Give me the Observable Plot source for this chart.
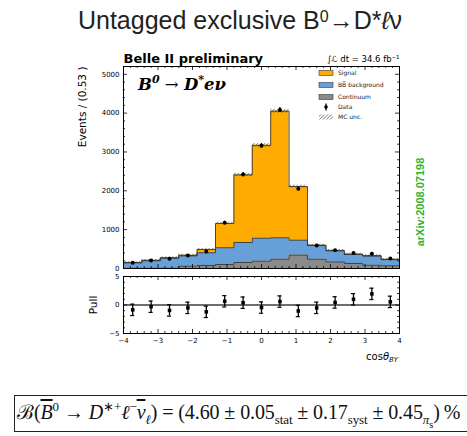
<!DOCTYPE html>
<html><head><meta charset="utf-8">
<script src="https://cdn.jsdelivr.net/npm/d3@7"></script>
<script src="https://cdn.jsdelivr.net/npm/@observablehq/plot@0.6"></script>
<style>
html,body{margin:0;padding:0;background:#fff;}
body{width:467px;height:436px;position:relative;overflow:hidden;font-family:"DejaVu Sans",sans-serif;}
.abs{position:absolute;}
#overlay{position:absolute;left:0;top:0;width:467px;height:436px;pointer-events:none;}
#fbox{position:absolute;left:14px;top:395px;width:470px;height:37px;border:1.5px solid #222;box-sizing:border-box;}
#formula{position:absolute;left:17px;top:402px;font-family:"Liberation Serif",serif;font-size:20px;white-space:nowrap;line-height:1;color:#111;letter-spacing:-0.1px;}
#formula sup,#formula sub{font-size:0.65em;line-height:0;}
#formula sub sub{font-size:0.8em;}
.ov{text-decoration:overline;}
</style></head><body>
<div id="main" class="abs" style="left:0;top:40px"></div>
<div id="pull" class="abs" style="left:0;top:272px"></div>
<svg id="overlay" xmlns="http://www.w3.org/2000/svg" width="467" height="436">
  <defs>
    <pattern id="hatchL" patternUnits="userSpaceOnUse" width="2.5" height="2.5" patternTransform="rotate(45)">
      <line x1="0" y1="0" x2="0" y2="2.5" stroke="#222" stroke-width="0.9"/>
    </pattern>
  </defs>
  <text x="240" y="29" text-anchor="middle" font-family="Liberation Sans, Arial, sans-serif" font-size="25" fill="#222">Untagged exclusive B<tspan font-size="16" dy="-7">0</tspan><tspan dy="7">→D*</tspan><tspan font-style="italic">ℓ</tspan>ν</text>
  <text x="138" y="90" font-family="DejaVu Serif, serif" font-weight="bold" font-style="italic" font-size="16.5" fill="#000">B<tspan font-size="11" dy="-7">0</tspan><tspan dy="7" font-style="normal" font-weight="normal"> → </tspan>D<tspan font-size="11" dy="-7">*</tspan><tspan dy="7">eν</tspan></text>
  <g id="legend" font-family="DejaVu Sans, sans-serif" font-size="6" fill="#222"></g>
  <text transform="translate(424,202) rotate(-90)" text-anchor="middle" font-family="Liberation Sans, Arial, sans-serif" font-weight="bold" font-size="11" fill="#33b233">arXiv:2008.07198</text>
  <text x="398" y="360" text-anchor="end" font-family="DejaVu Sans, sans-serif" font-size="10" fill="#000">cos<tspan font-style="italic">θ</tspan><tspan font-style="italic" font-size="7" dy="2">BY</tspan></text>
</svg>
<div id="fbox"></div>
<div id="formula"><span>ℬ</span>(<i class="ov">B</i><sup>0</sup> → <i>D</i><sup>∗+</sup><i>ℓ</i><sup>−</sup><i class="ov">ν</i><sub><i>ℓ</i></sub>) = (4.60 ± 0.05<sub>stat</sub> ± 0.17<sub>syst</sub> ± 0.45<sub><i>π</i><sub>s</sub></sub>)&thinsp;%</div>
<script>
// ---- data ----
const binLow = [-4, -3.467, -2.933, -2.4, -1.867, -1.333, -0.8, -0.267, 0.267, 0.8, 1.333, 1.867, 2.4, 2.933, 3.467];
const binWidth = 0.5333;
const continuum = [8, 8, 10, 60, 78, 103, 155, 190, 240, 345, 240, 170, 130, 85, 70];
const bbbar     = [137, 192, 255, 265, 327, 432, 515, 590, 550, 385, 350, 285, 230, 235, 160];
const signal    = [10, 10, 10, 15, 85, 625, 1740, 2390, 3260, 1380, 10, 10, 10, 10, 5];
const dataCounts= [150, 205, 250, 335, 440, 1180, 2420, 3160, 4080, 2050, 590, 470, 400, 380, 260];
const mcUnc     = [25, 25, 25, 25, 25, 30, 40, 45, 50, 35, 25, 25, 25, 25, 25];
const pulls     = [-0.85, -0.3, -0.95, -0.5, -1.2, 0.65, 0.4, -0.45, 0.6, -1.05, -0.5, 0.45, 1.0, 1.95, 0.55];
const pullErr   = 1;
const xTickLabels = [-4, -3, -2, -1, 0, 1, 2, 3, 4];
const yTickLabels = [0, 1000, 2000, 3000, 4000, 5000];
const pullTickLabels = [-5, 0, 5];
const legendItems = ["Signal", "BB\u0305 background", "Continuum", "Data", "MC unc."];

const ORANGE = "#ffab00", BLUE = "#679fd8", GRAY = "#8a8a8a", EDGE = "#3a3a3a";

const rows = binLow.map((lo, i) => {
  const c = continuum[i], b = c + bbbar[i], t = b + signal[i];
  return {lo, hi: lo + binWidth, x: lo + binWidth / 2, c, b, t, d: dataCounts[i], u: mcUnc[i], p: pulls[i]};
});
const last = rows[rows.length - 1];
const steps = [...rows.map(r => ({x: r.lo, c: r.c, b: r.b, t: r.t})), {x: last.hi, c: last.c, b: last.b, t: last.t}];

const fmt = d => d < 0 ? "\u2212" + (-d) : String(d);
const W = 467, mL = 123, mR = 68;
const plotW = W - mL - mR;
const xMinor = d3.range(-40, 41, 2).map(v => v / 10).filter(v => !Number.isInteger(v));

function tickMarks(yMajor, yMinor, plotH) {
  const s = {stroke: "#000", strokeWidth: 0.8};
  const MJ = 4, MN = 2;
  return [
    Plot.ruleX(xTickLabels, {x: d => d, insetTop: plotH - MJ, ...s}),
    Plot.ruleX(xTickLabels, {x: d => d, insetBottom: plotH - MJ, ...s}),
    Plot.ruleX(xMinor, {x: d => d, insetTop: plotH - MN, ...s}),
    Plot.ruleX(xMinor, {x: d => d, insetBottom: plotH - MN, ...s}),
    Plot.ruleY(yMajor, {y: d => d, insetRight: plotW - MJ, ...s}),
    Plot.ruleY(yMajor, {y: d => d, insetLeft: plotW - MJ, ...s}),
    Plot.ruleY(yMinor, {y: d => d, insetRight: plotW - MN, ...s}),
    Plot.ruleY(yMinor, {y: d => d, insetLeft: plotW - MN, ...s})
  ];
}

// ---- main panel ----
const mainH = 232, mT = 26, mB = 4;
const yMinorMain = d3.range(0, 5201, 200).filter(v => v % 1000 !== 0);
const main = Plot.plot({
  width: W, height: mainH, marginTop: mT, marginBottom: mB, marginLeft: mL, marginRight: mR,
  style: {fontFamily: "DejaVu Sans, sans-serif", fontSize: "7px", color: "#000", background: "transparent", overflow: "visible"},
  x: {domain: [-4, 4], axis: null},
  y: {domain: [0, 5200], axis: null},
  marks: [
    Plot.area(steps, {x1: "x", y1: 0, y2: "c", curve: "step-after", fill: GRAY}),
    Plot.area(steps, {x1: "x", y1: "c", y2: "b", curve: "step-after", fill: BLUE}),
    Plot.area(steps, {x1: "x", y1: "b", y2: "t", curve: "step-after", fill: ORANGE}),
    Plot.line(steps, {x: "x", y: "c", curve: "step-after", stroke: EDGE, strokeWidth: 0.9}),
    Plot.line(steps, {x: "x", y: "b", curve: "step-after", stroke: EDGE, strokeWidth: 0.9}),
    Plot.line(steps, {x: "x", y: "t", curve: "step-after", stroke: EDGE, strokeWidth: 0.9}),
    Plot.rect(rows, {x1: "lo", x2: "hi", y1: d => d.t - d.u, y2: d => d.t + d.u, fill: "url(#hatchM)"}),
    Plot.ruleX(rows, {x: "x", y1: d => d.d - Math.sqrt(d.d), y2: d => d.d + Math.sqrt(d.d), stroke: "#000", strokeWidth: 1.3}),
    Plot.dot(rows, {x: "x", y: "d", r: 2, fill: "#000"}),
    Plot.frame({stroke: "#000", strokeWidth: 1}),
    ...tickMarks(yTickLabels, yMinorMain, mainH - mT - mB),
    Plot.axisY({ticks: yTickLabels, tickSize: 0, tickPadding: 4, anchor: "left", label: null, tickFormat: fmt, fontSize: 7}),
    Plot.text(["Events / (0.53 )"], {text: d => d, frameAnchor: "top-left", rotate: -90, textAnchor: "end", dx: -45, fontSize: 10.5}),
    Plot.text(["Belle II preliminary"], {text: d => d, frameAnchor: "top-left", textAnchor: "start", dy: -13, fontSize: 13, fontWeight: "bold"}),
    Plot.text(["\u222B\u2112 dt = 34.6 fb\u207B\u00B9"], {text: d => d, frameAnchor: "top-right", textAnchor: "end", dy: -11, fontSize: 8.5})
  ]
});
{
  const ns = "http://www.w3.org/2000/svg";
  const defs = document.createElementNS(ns, "defs");
  defs.innerHTML = '<pattern id="hatchM" patternUnits="userSpaceOnUse" width="2.5" height="2.5" patternTransform="rotate(45)"><line x1="0" y1="0" x2="0" y2="2.5" stroke="#222" stroke-width="0.9"/></pattern>';
  main.prepend(defs);
}
document.getElementById("main").appendChild(main);

// ---- pull panel ----
const pullH = 92, pT = 4, pB = 31;
const yMinorPull = d3.range(-5, 6, 1).filter(v => v % 5 !== 0);
const pull = Plot.plot({
  width: W, height: pullH, marginTop: pT, marginBottom: pB, marginLeft: mL, marginRight: mR,
  style: {fontFamily: "DejaVu Sans, sans-serif", fontSize: "7px", color: "#000", background: "transparent", overflow: "visible"},
  x: {domain: [-4, 4], axis: null},
  y: {domain: [-5, 5], axis: null},
  marks: [
    Plot.ruleY([0], {stroke: "#6e6e6e", strokeWidth: 2}),
    Plot.ruleX(rows, {x: "x", y1: d => d.p - pullErr, y2: d => d.p + pullErr, stroke: "#000", strokeWidth: 1.3}),
    Plot.ruleY(rows, {y: d => d.p + pullErr, x1: d => d.x - 0.06, x2: d => d.x + 0.06, stroke: "#000", strokeWidth: 1.2}),
    Plot.ruleY(rows, {y: d => d.p - pullErr, x1: d => d.x - 0.06, x2: d => d.x + 0.06, stroke: "#000", strokeWidth: 1.2}),
    Plot.dot(rows, {x: "x", y: "p", r: 2, fill: "#000", symbol: "square"}),
    Plot.frame({stroke: "#000", strokeWidth: 1}),
    ...tickMarks(pullTickLabels, yMinorPull, pullH - pT - pB),
    Plot.axisY({ticks: pullTickLabels, tickSize: 0, tickPadding: 4, anchor: "left", label: null, tickFormat: fmt, fontSize: 7}),
    Plot.axisX({ticks: xTickLabels, tickSize: 0, tickPadding: 5, anchor: "bottom", label: null, tickFormat: fmt, fontSize: 7}),
    Plot.text(["Pull"], {text: d => d, frameAnchor: "left", rotate: -90, textAnchor: "middle", dx: -30, fontSize: 10.5})
  ]
});
document.getElementById("pull").appendChild(pull);

// ---- legend (inside main panel, top right) ----
{
  const ns = "http://www.w3.org/2000/svg";
  const g = document.getElementById("legend");
  const rowsY = [73, 85, 97, 107, 117];
  const fills = [ORANGE, BLUE, GRAY, null, "url(#hatchL)"];
  legendItems.forEach((label, i) => {
    const y = rowsY[i];
    if (i === 3) {
      const l = document.createElementNS(ns, "line");
      l.setAttribute("x1", 326); l.setAttribute("x2", 326); l.setAttribute("y1", y - 3.5); l.setAttribute("y2", y + 3.5);
      l.setAttribute("stroke", "#000"); l.setAttribute("stroke-width", 1.3); g.appendChild(l);
      const c = document.createElementNS(ns, "circle");
      c.setAttribute("cx", 326); c.setAttribute("cy", y); c.setAttribute("r", 1.8); c.setAttribute("fill", "#000"); g.appendChild(c);
    } else {
      const r = document.createElementNS(ns, "rect");
      r.setAttribute("x", 319); r.setAttribute("y", y - 2.5); r.setAttribute("width", 14); r.setAttribute("height", 5);
      r.setAttribute("fill", fills[i]);
      if (i < 3) { r.setAttribute("stroke", EDGE); r.setAttribute("stroke-width", 0.6); }
      g.appendChild(r);
    }
    const t = document.createElementNS(ns, "text");
    t.setAttribute("x", 338); t.setAttribute("y", y + 2); t.textContent = label; g.appendChild(t);
  });
}
</script>
</body></html>
